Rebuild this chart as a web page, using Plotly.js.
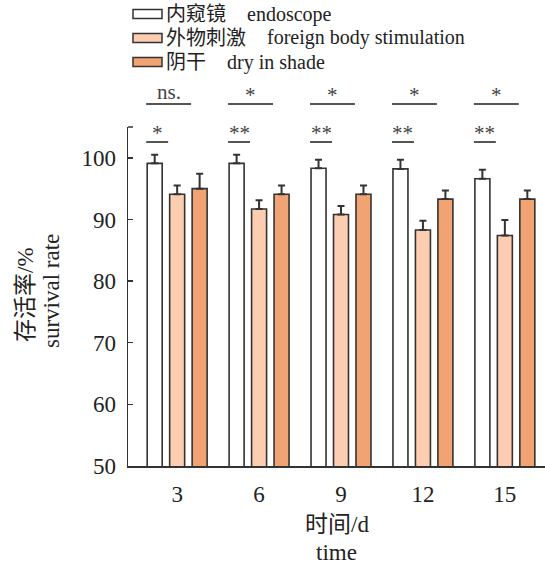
<!DOCTYPE html>
<html><head><meta charset="utf-8">
<script src="https://cdn.plot.ly/plotly-3.0.1.min.js"></script>
<style>body{margin:0;background:#fff}</style>
</head><body><div id="chart" style="width:545px;height:566px"></div>
<script>
const days = ["3","6","9","12","15"];
const seriesCN = ["内窥镜","外物刺激","阴干"];
const seriesEN = ["endoscope","foreign body stimulation","dry in shade"];
const endoscope = [99.1, 99.1, 98.3, 98.2, 96.6];
const endoscopeErr = [1.4, 1.4, 1.4, 1.5, 1.45];
const foreignBody = [94.1, 91.7, 90.8, 88.3, 87.4];
const foreignBodyErr = [1.4, 1.4, 1.4, 1.5, 2.5];
const dryShade = [95.0, 94.1, 94.1, 93.3, 93.3];
const dryShadeErr = [2.4, 1.4, 1.4, 1.4, 1.4];
const sigTop = ["ns.","*","*","*","*"];
const sigBottom = ["*","**","**","**","**"];
const yTitleCN = "存活率/%", yTitleEN = "survival rate";
const xTitleCN = "时间/d", xTitleEN = "time";

const colors = ["#ffffff", "#fdcdb1", "#f2a374"];
const FONT = "Liberation Serif, Times New Roman, Noto Sans CJK SC, serif";
const W = 545, H = 566, M = {l:128, r:0, t:127, b:100};
const PW = W - M.l - M.r, PH = H - M.t - M.b;
const pxX = px => (px - M.l) / PW;
const pxY = py => (H - M.b - py) / PH;

const vals = [endoscope, foreignBody, dryShade];
const errs = [endoscopeErr, foreignBodyErr, dryShadeErr];
const traces = vals.map((v, k) => ({
  type: 'bar', x: days, y: v, name: seriesCN[k] + ' ' + seriesEN[k],
  marker: {color: colors[k], line: {color: '#333', width: 1.6}},
  error_y: {type: 'data', array: errs[k], visible: true, symmetric: false, arrayminus: v.map(() => 0),
            color: '#333', thickness: 2, width: 3.5},
  showlegend: false, hoverinfo: 'skip'
}));

const shapes = [];
const annotations = [];
const sigShift = t => (t.indexOf('*') >= 0 ? -5 : -2);
days.forEach((d, i) => {
  shapes.push({type: 'line', xref: 'x', yref: 'paper', x0: i - 0.378, x1: i + 0.17,
    y0: pxY(104), y1: pxY(104), line: {color: '#555', width: 2}});
  shapes.push({type: 'line', xref: 'x', yref: 'paper', x0: i - 0.378, x1: i - 0.11,
    y0: pxY(142), y1: pxY(142), line: {color: '#555', width: 2}});
  annotations.push({xref: 'x', yref: 'paper', x: i - 0.104, y: pxY(104), xanchor: 'center', yanchor: 'bottom',
    yshift: sigShift(sigTop[i]),
    text: sigTop[i], showarrow: false, font: {family: FONT, size: 21, color: '#444'}});
  annotations.push({xref: 'x', yref: 'paper', x: i - 0.244, y: pxY(142), xanchor: 'center', yanchor: 'bottom',
    yshift: sigShift(sigBottom[i]),
    text: sigBottom[i], showarrow: false, font: {family: FONT, size: 21, color: '#444'}});
});
// top end tick of y axis
shapes.push({type: 'line', xref: 'paper', yref: 'paper', x0: 0, x1: pxX(133), y0: 1, y1: 1,
  line: {color: '#333', width: 1.5}});

// manual legend
seriesCN.forEach((cn, k) => {
  const cy = 14 + 24 * k;
  shapes.push({type: 'rect', xref: 'paper', yref: 'paper', x0: pxX(133), x1: pxX(162),
    y0: pxY(cy - 4.5), y1: pxY(cy + 4.5), fillcolor: colors[k], line: {color: '#333', width: 1.5}});
  annotations.push({xref: 'paper', yref: 'paper', x: pxX(164), y: pxY(cy), xanchor: 'left', yanchor: 'middle',
    text: cn, showarrow: false, font: {family: FONT, size: 20, color: '#222'}});
  annotations.push({xref: 'paper', yref: 'paper', x: pxX(164 + 20 * cn.length + 21), y: pxY(cy), xanchor: 'left', yanchor: 'middle',
    text: seriesEN[k], showarrow: false, font: {family: FONT, size: 20, color: '#222'}});
});

// axis titles
annotations.push({xref: 'paper', yref: 'paper', x: pxX(25), y: pxY(295), xanchor: 'center', yanchor: 'middle',
  textangle: -90, text: yTitleCN, showarrow: false, font: {family: FONT, size: 23, color: '#222'}});
annotations.push({xref: 'paper', yref: 'paper', x: pxX(51), y: pxY(291), xanchor: 'center', yanchor: 'middle',
  textangle: -90, text: yTitleEN, showarrow: false, font: {family: FONT, size: 23, color: '#222'}});
annotations.push({xref: 'paper', yref: 'paper', x: 0.5, y: pxY(524), xanchor: 'center', yanchor: 'middle',
  text: xTitleCN, showarrow: false, font: {family: FONT, size: 23, color: '#222'}});
annotations.push({xref: 'paper', yref: 'paper', x: 0.5, y: pxY(552), xanchor: 'center', yanchor: 'middle',
  text: xTitleEN, showarrow: false, font: {family: FONT, size: 23, color: '#222'}});

const layout = {
  width: W, height: H, margin: M,
  paper_bgcolor: '#fff', plot_bgcolor: '#fff',
  barmode: 'group', bargap: 0.177, bargroupgap: 0.333,
  font: {family: FONT, color: '#222'},
  xaxis: {type: 'category', range: [-0.6, 4.49], showline: true, linecolor: '#333', linewidth: 1.5,
    ticks: '', showgrid: false, zeroline: false, tickfont: {family: FONT, size: 23, color: '#222'},
    ticklabelstandoff: 7},
  yaxis: {range: [50, 105], tickvals: [50, 60, 70, 80, 90, 100], ticks: 'inside', ticklen: 5, tickwidth: 1.5,
    tickcolor: '#333', showline: true, linecolor: '#333', linewidth: 1.5, showgrid: false, zeroline: false,
    tickfont: {family: FONT, size: 23, color: '#222'}, ticklabelstandoff: 6},
  shapes: shapes, annotations: annotations, showlegend: false
};
Plotly.newPlot('chart', traces, layout, {staticPlot: true});
</script></body></html>
